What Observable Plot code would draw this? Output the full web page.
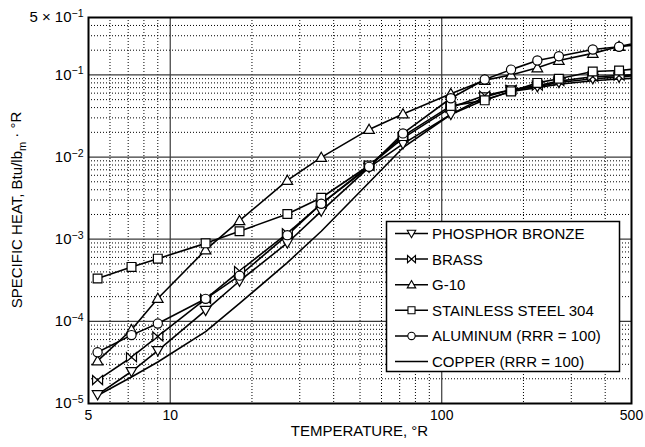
<!DOCTYPE html>
<html><head><meta charset="utf-8">
<script src="https://cdn.jsdelivr.net/npm/d3@7"></script>
<script src="https://cdn.jsdelivr.net/npm/@observablehq/plot@0.6"></script>
<style>
body{margin:0;background:#fff;font-family:"Liberation Sans",Arial,sans-serif}
#chart{width:645px;height:447px}
</style></head><body><div id="chart"></div>
<script>
// ---- data (temperature in °R, specific heat in Btu/lbm·°R) ----
const temperatureR   = [5.4, 7.2, 9, 13.5, 18, 27, 36, 54, 72, 108, 144, 180, 225, 270, 360, 450, 540];
const phosphorBronze = [1.28e-5, 2.45e-5, 4.4e-5, 1.36e-4, 3.1e-4, 9.0e-4, 2.2e-3, 7.5e-3, 1.45e-2, 3.3e-2, 5.4e-2, 6.6e-2, 7.2e-2, 8.1e-2, 9.0e-2, 9.4e-2, 1.0e-1];
const brass          = [1.93e-5, 3.66e-5, 6.55e-5, 1.88e-4, 4.1e-4, 1.18e-3, 2.7e-3, 7.8e-3, 1.7e-2, 4.0e-2, 5.6e-2, 6.6e-2, 7.4e-2, 8.4e-2, 9.5e-2, 9.8e-2, 1.02e-1];
const g10            = [3.3e-5, 7.9e-5, 1.9e-4, 7.4e-4, 1.68e-3, 5.2e-3, 9.9e-3, 2.17e-2, 3.35e-2, 5.9e-2, 8.6e-2, 1.0e-1, 1.22e-1, 1.5e-1, 1.83e-1, 2.22e-1, 2.52e-1];
const stainless304   = [3.33e-4, 4.6e-4, 5.8e-4, 8.9e-4, 1.25e-3, 2.03e-3, 3.2e-3, 7.9e-3, 1.8e-2, 4.2e-2, 4.9e-2, 6.3e-2, 8.0e-2, 9.0e-2, 1.1e-1, 1.13e-1, 1.2e-1];
const aluminum       = [4.2e-5, 6.8e-5, 9.4e-5, 1.88e-4, 3.6e-4, 1.12e-3, 2.7e-3, 7.6e-3, 1.94e-2, 5.2e-2, 8.8e-2, 1.16e-1, 1.5e-1, 1.69e-1, 2.04e-1, 2.2e-1, 2.36e-1];
const copper         = [1.25e-5, 2.1e-5, 3.2e-5, 7.5e-5, 1.65e-4, 5.2e-4, 1.25e-3, 4.9e-3, 1.3e-2, 3.3e-2, 5.0e-2, 6.3e-2, 7.0e-2, 7.7e-2, 8.5e-2, 8.9e-2, 9.2e-2];
const seriesNames = ["PHOSPHOR BRONZE", "BRASS", "G-10", "STAINLESS STEEL 304", "ALUMINUM (RRR = 100)", "COPPER (RRR = 100)"];
const xTickValues = [5, 10, 100, 500];
const xTickLabels = ["5", "10", "100", "500"];
const yTickValues = [1e-5, 1e-4, 1e-3, 1e-2, 1e-1, 5e-1];
const yTickLabels = [["10", "\u22125"], ["10", "\u22124"], ["10", "\u22123"], ["10", "\u22122"], ["10", "\u22121"], ["5 \u00d7 10", "\u22121"]];
const xTitle = "TEMPERATURE, \u00b0R";
const yTitle = ["SPECIFIC HEAT, Btu/lb", "m", " \u00b7 \u00b0R"];

// ---- symbols ----
function sym(fn){ return {draw(ctx, size){ const k = Math.sqrt(size/Math.PI)/5; fn(ctx, k); }}; }
const downTri = sym((c,k)=>{c.moveTo(0,5.2*k);c.lineTo(5.3*k,-4*k);c.lineTo(-5.3*k,-4*k);c.closePath();});
const upTri   = sym((c,k)=>{c.moveTo(0,-5.2*k);c.lineTo(5.3*k,4*k);c.lineTo(-5.3*k,4*k);c.closePath();});
const bowtie  = sym((c,k)=>{c.moveTo(-5*k,-4.5*k);c.lineTo(5*k,4.5*k);c.lineTo(5*k,-4.5*k);c.lineTo(-5*k,4.5*k);c.closePath();});
const square  = sym((c,k)=>{c.rect(-4.4*k,-4.4*k,8.8*k,8.8*k);});
const circle  = sym((c,k)=>{c.moveTo(4.6*k,0);c.arc(0,0,4.6*k,0,2*Math.PI);});
const seriesValues = [phosphorBronze, brass, g10, stainless304, aluminum, copper];
const seriesSymbols = [downTri, bowtie, upTri, square, circle, null];

const rows = seriesNames.map((name,i)=>temperatureR.map((t,j)=>({series:name, t, c:seriesValues[i][j]})));

// grid values
const minorX = [], minorY = [];
for (const d of [1,10,100]) for (let m=2;m<=9;m++){ const v=m*d; if(v>5 && v<500 && v!==10 && v!==100) minorX.push(v); }
for (let e=-5;e<=-1;e++) for (let m=2;m<=9;m++){ const v=m*Math.pow(10,e); if(v<0.5-1e-9) minorY.push(v); }
const majorX = [10, 100];
const majorY = [1e-4, 1e-3, 1e-2, 1e-1];

const marks = [
  Plot.ruleX(minorX, {stroke:"#000", strokeWidth:1, strokeDasharray:"1,2"}),
  Plot.ruleY(minorY, {stroke:"#000", strokeWidth:1, strokeDasharray:"1,2"}),
  Plot.ruleX(majorX, {stroke:"#3a3a3a", strokeWidth:1.2}),
  Plot.ruleY(majorY, {stroke:"#3a3a3a", strokeWidth:1.2}),
];
rows.forEach(r=>marks.push(Plot.line(r,{x:"t",y:"c",stroke:"#000",strokeWidth:1.6,clip:true})));
rows.forEach((r,i)=>{ if(seriesSymbols[i]) marks.push(Plot.dot(r,{x:"t",y:"c",symbol:seriesSymbols[i],r:5,fill:"white",stroke:"#000",strokeWidth:1.2,clip:true})); });
marks.push(Plot.frame({stroke:"#000", strokeWidth:2}));
// y tick labels (rewritten below with superscript exponents)
marks.push(Plot.text(yTickValues, {y:d=>d, text:(d,i)=>"Y"+i, frameAnchor:"left", textAnchor:"end", dx:-5, fontSize:15, fill:"#000"}));

const chart = Plot.plot({
  width:645, height:447, marginLeft:88, marginRight:14, marginTop:17, marginBottom:44,
  style:{fontFamily:"'Liberation Sans', Arial, sans-serif", fontSize:"14px", background:"white", color:"#000", overflow:"visible"},
  x:{type:"log", domain:[5,500], ticks:xTickValues, tickFormat:d=>xTickLabels[xTickValues.indexOf(d)] ?? "", tickSize:0, tickPadding:7, label:null},
  y:{type:"log", domain:[1e-5,0.5], axis:null},
  marks
});
document.getElementById("chart").appendChild(chart);

// ---- post-process y tick labels with superscripts ----
const svg = d3.select(chart.tagName.toLowerCase()==="svg" ? chart : chart.querySelector("svg"));
svg.selectAll("text").each(function(){
  const t = this.textContent;
  const m = /^Y(\d)$/.exec(t);
  if (m){
    const lab = yTickLabels[+m[1]];
    const sel = d3.select(this); sel.text(null);
    sel.append("tspan").text(lab[0]);
    sel.append("tspan").attr("dy","-0.5em").attr("font-size","10.5px").text(lab[1]);
  }
});
svg.selectAll("text").style("fill","#000");

// axis titles
svg.append("text").attr("x", (88+631)/2).attr("y", 436).attr("text-anchor","middle")
  .attr("font-size","15px").attr("fill","#000").text(xTitle);
const yt = svg.append("text").attr("transform","translate(22,210) rotate(-90)").attr("text-anchor","middle")
  .attr("font-size","15px").attr("fill","#000");
yt.append("tspan").text(yTitle[0]);
yt.append("tspan").attr("font-size","11px").attr("dy","0.35em").text(yTitle[1]);
yt.append("tspan").attr("dy","-0.35em").text(yTitle[2]);

// legend
const lg = svg.append("g").attr("text-anchor","start");
lg.append("rect").attr("x",386.5).attr("y",221.5).attr("width",233).attr("height",150)
  .attr("fill","white").attr("stroke","#000").attr("stroke-width",1.5);
seriesNames.forEach((name,i)=>{
  const y = 233.5 + i*25.6;
  lg.append("line").attr("x1",395).attr("x2",428).attr("y1",y).attr("y2",y).attr("stroke","#000").attr("stroke-width",1.5);
  if (seriesSymbols[i]) lg.append("path").attr("transform",`translate(411.5,${y})`)
    .attr("d", d3.symbol(seriesSymbols[i], 16*Math.PI)()).attr("fill","white").attr("stroke","#000").attr("stroke-width",1.1);
  lg.append("text").attr("x",432).attr("y",y).attr("dy","0.36em").attr("text-anchor","start")
    .attr("font-size","15px").attr("fill","#000").text(name);
});
</script></body></html>
